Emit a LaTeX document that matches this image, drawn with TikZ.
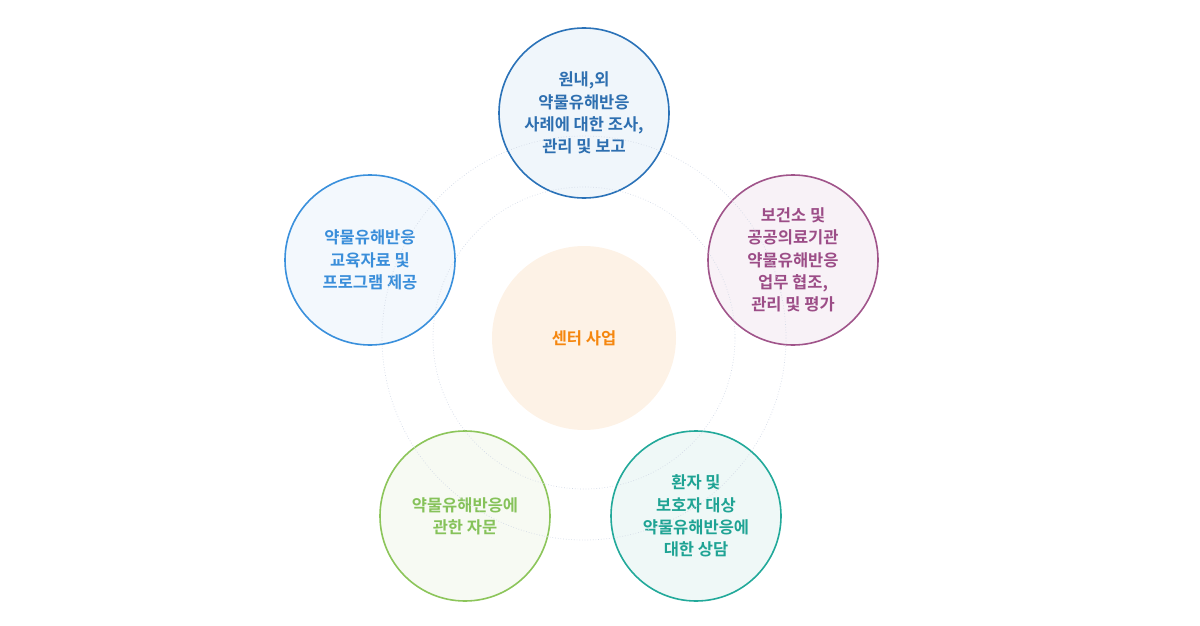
\documentclass[tikz,border=0pt]{standalone}
\usepackage{fontspec}
\setmainfont{Noto Sans CJK KR}[BoldFont={Noto Sans CJK KR Bold}]
\definecolor{cTopD}{HTML}{2A72B8}\definecolor{cTopF}{HTML}{F0F6FB}\definecolor{cTopT}{HTML}{2E6FB0}
\definecolor{cLeftD}{HTML}{3A90DC}\definecolor{cLeftF}{HTML}{F3F8FD}\definecolor{cLeftT}{HTML}{3A8EDA}
\definecolor{cRightD}{HTML}{A0548A}\definecolor{cRightF}{HTML}{F8F2F7}\definecolor{cRightT}{HTML}{9C4D87}
\definecolor{cBLD}{HTML}{8CC55A}\definecolor{cBLF}{HTML}{F7FAF3}\definecolor{cBLT}{HTML}{86C25A}
\definecolor{cBRD}{HTML}{22A99A}\definecolor{cBRF}{HTML}{EFF8F7}\definecolor{cBRT}{HTML}{1FA394}
\definecolor{cCenF}{HTML}{FDF2E6}\definecolor{cCenT}{HTML}{F5870F}
\definecolor{cDot}{HTML}{D3DAE6}
\begin{document}
\begin{tikzpicture}[x=1pt,y=-1pt,
  sat/.style={circle,minimum size=170pt,inner sep=0pt,line width=1.6pt,align=center,
    font=\fontsize{16.5}{22.3}\selectfont\bfseries},
  ring/.style={draw=cDot,dotted,line width=0.7pt}]
\useasboundingbox (0,0) rectangle (1200,626);
\node[circle,minimum size=184pt,inner sep=0pt,fill=cCenF,text=cCenT,font=\fontsize{16.5}{22}\selectfont\bfseries] (center) at (584,338) {센터 사업};
\node[sat,draw=cTopD,fill=cTopF,text=cTopT] (top) at (584,113) {원내,외\\약물유해반응\\사례에 대한 조사,\\관리 및 보고};
\node[sat,draw=cLeftD,fill=cLeftF,text=cLeftT] (left) at (370,260) {약물유해반응\\교육자료 및\\프로그램 제공};
\node[sat,draw=cRightD,fill=cRightF,text=cRightT] (right) at (793,260) {보건소 및\\공공의료기관\\약물유해반응\\업무 협조,\\관리 및 평가};
\node[sat,draw=cBLD,fill=cBLF,text=cBLT] (bl) at (465,516) {약물유해반응에\\관한 자문};
\node[sat,draw=cBRD,fill=cBRF,text=cBRT] (br) at (696,516) {환자 및\\보호자 대상\\약물유해반응에\\대한 상담};
\draw[ring] (center.center) circle[radius=151];
\draw[ring] (center.center) circle[radius=202];
\end{tikzpicture}
\end{document}
